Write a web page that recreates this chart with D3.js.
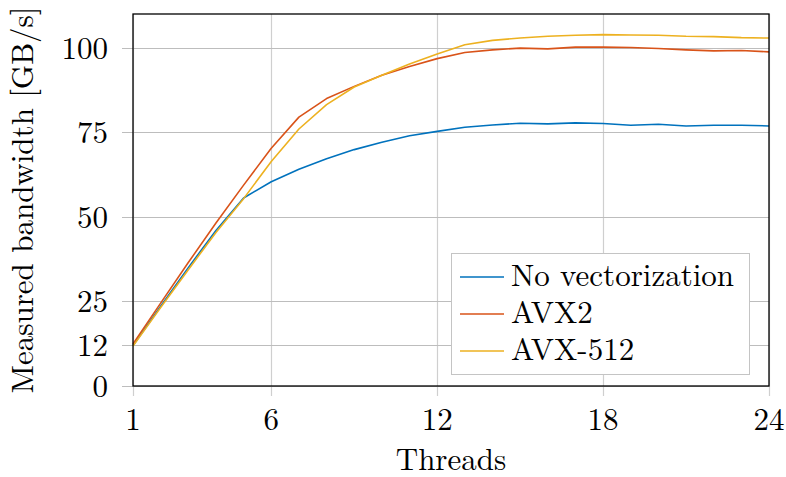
<!DOCTYPE html>
<html>
<head>
<meta charset="utf-8">
<script src="https://cdn.jsdelivr.net/npm/d3@7"></script>
<style>
  body { margin: 0; background: #fff; }
</style>
</head>
<body>
<div id="chart"></div>
<script>
// Values
const threads = [1, 2, 3, 4, 5, 6, 7, 8, 9, 10, 11, 12, 13, 14, 15, 16, 17, 18, 19, 20, 21, 22, 23, 24];
const noVec = [12.0, 23.6, 35.0, 46.0, 55.6, 60.4, 64.1, 67.2, 69.9, 72.1, 74.0, 75.3, 76.5, 77.2, 77.7, 77.5, 77.8, 77.6, 77.1, 77.4, 76.9, 77.1, 77.1, 76.9];
const avx2 = [12.4, 24.5, 36.5, 48.2, 59.4, 70.3, 79.5, 85.0, 88.6, 91.9, 94.5, 96.8, 98.6, 99.4, 99.9, 99.7, 100.2, 100.2, 100.1, 99.8, 99.4, 99.1, 99.2, 98.8];
const avx512 = [11.8, 23.2, 34.4, 45.4, 55.4, 66.4, 76.0, 83.2, 88.4, 91.9, 95.2, 98.2, 100.9, 102.2, 102.9, 103.4, 103.7, 103.9, 103.8, 103.7, 103.4, 103.3, 103.0, 102.9];
const seriesNames = ["No vectorization", "AVX2", "AVX-512"];
const seriesColors = ["#0072BD", "#D95319", "#EDB120"];
const xTicks = [1, 6, 12, 18, 24];
const yTicks = [0, 12, 25, 50, 75, 100];

const svgWidth = 786;
const svgHeight = 477;
const margin = { top: 14, right: 17, bottom: 91, left: 133 };
const width = svgWidth - margin.left - margin.right;
const height = svgHeight - margin.top - margin.bottom;
const fontFamily = "'Latin Modern Roman', 'Liberation Serif', serif";

const svg = d3.select("#chart")
  .append("svg")
  .attr("width", svgWidth)
  .attr("height", svgHeight)
  .attr("font-family", fontFamily);

const g = svg.append("g")
  .attr("transform", `translate(${margin.left},${margin.top})`);

const x = d3.scaleLinear().domain([1, 24]).range([0, width]);
const y = d3.scaleLinear().domain([0, 110]).range([height, 0]);

// grid lines
g.append("g").selectAll("line")
  .data(xTicks)
  .enter().append("line")
  .attr("x1", d => Math.round(x(d)) + 0.5)
  .attr("x2", d => Math.round(x(d)) + 0.5)
  .attr("y1", 0)
  .attr("y2", height + 10)
  .attr("stroke", "#cfcfcf")
  .attr("stroke-width", 1.2);

g.append("g").selectAll("line")
  .data(yTicks)
  .enter().append("line")
  .attr("x1", -11)
  .attr("x2", width)
  .attr("y1", d => Math.round(y(d)) + 0.5)
  .attr("y2", d => Math.round(y(d)) + 0.5)
  .attr("stroke", "#bdbdbd")
  .attr("stroke-width", 1.2);

// tick labels
g.append("g").selectAll("text")
  .data(xTicks)
  .enter().append("text")
  .attr("x", d => x(d))
  .attr("y", height + 44)
  .attr("text-anchor", "middle")
  .attr("font-size", 31)
  .text(d => d);

g.append("g").selectAll("text")
  .data(yTicks)
  .enter().append("text")
  .attr("x", -25)
  .attr("y", d => y(d) + 11)
  .attr("text-anchor", "end")
  .attr("font-size", 31)
  .text(d => d);

// series lines
const series = [noVec, avx2, avx512];
const line = d3.line()
  .x((d, i) => x(threads[i]))
  .y(d => y(d));

series.forEach((s, i) => {
  g.append("path")
    .datum(s)
    .attr("fill", "none")
    .attr("stroke", seriesColors[i])
    .attr("stroke-width", 1.6)
    .attr("stroke-linejoin", "round")
    .attr("d", line);
});

// frame
g.append("rect")
  .attr("x", 0)
  .attr("y", 0)
  .attr("width", width)
  .attr("height", height)
  .attr("fill", "none")
  .attr("stroke", "#000")
  .attr("stroke-width", 1.3);

// legend
const legend = g.append("g")
  .attr("transform", `translate(${width - 318},${height - 133})`);

legend.append("rect")
  .attr("x", 0.5)
  .attr("y", 0.5)
  .attr("width", 298)
  .attr("height", 121)
  .attr("fill", "#fff")
  .attr("stroke", "#c4c4c4")
  .attr("stroke-width", 1);

seriesNames.forEach((name, i) => {
  const ry = 24 + i * 37;
  legend.append("line")
    .attr("x1", 9)
    .attr("x2", 53)
    .attr("y1", ry)
    .attr("y2", ry)
    .attr("stroke", seriesColors[i])
    .attr("stroke-width", 1.6);
  legend.append("text")
    .attr("x", 60)
    .attr("y", ry + 9)
    .attr("font-size", 31)
    .text(name);
});

// axis labels
svg.append("text")
  .attr("x", margin.left + width / 2)
  .attr("y", 470)
  .attr("text-anchor", "middle")
  .attr("font-size", 31)
  .text("Threads");

svg.append("text")
  .attr("transform", `translate(33, ${margin.top + height / 2}) rotate(-90)`)
  .attr("text-anchor", "middle")
  .attr("font-size", 31)
  .text("Measured bandwidth [GB/s]");
</script>
</body>
</html>
